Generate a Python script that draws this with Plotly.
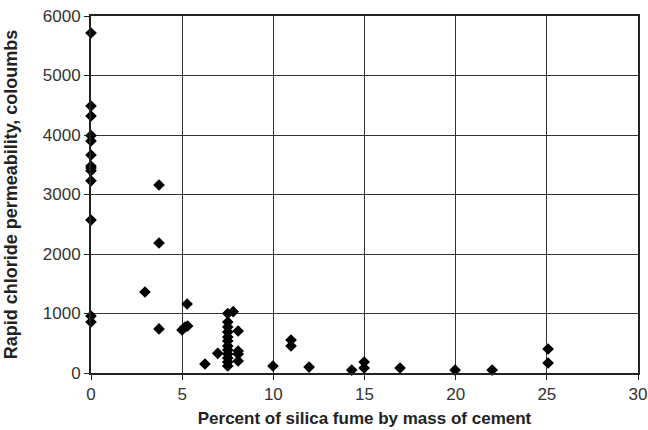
import plotly.graph_objects as go

silica_fume_pct = [0, 0, 0, 0, 0, 0, 0, 0, 0, 0, 0, 0, 0,
                   2.96, 3.73, 3.73, 3.73,
                   4.99, 5.16, 5.3, 5.27,
                   6.25, 6.95,
                   7.5, 7.5, 7.5, 7.5, 7.5, 7.5, 7.5, 7.5, 7.5, 7.5, 7.5, 7.5, 7.8,
                   8.07, 8.07, 8.07, 8.07,
                   9.98, 10.97, 10.97, 11.96,
                   14.3, 14.98, 14.98, 16.95, 19.97, 22.0, 25.07, 25.07]
permeability_c = [5714, 4487, 4319, 3990, 3900, 3664, 3479, 3445, 3400, 3230, 2571, 958, 857,
                  1361, 3160, 2185, 740,
                  723, 773, 790, 1160,
                  151, 330,
                  1000, 857, 773, 690, 605, 538, 454, 387, 319, 252, 185, 118, 1030,
                  706, 370, 319, 202,
                  118, 555, 454, 100,
                  50, 185, 84, 84, 50, 50, 403, 168]

x_ticks = [0, 5, 10, 15, 20, 25, 30]
y_ticks = [0, 1000, 2000, 3000, 4000, 5000, 6000]

fig = go.Figure()
fig.add_trace(go.Scatter(
    x=silica_fume_pct, y=permeability_c, mode="markers",
    marker=dict(symbol="diamond", size=9, color="black"),
    showlegend=False, cliponaxis=False))

font = "Liberation Sans, Arial, sans-serif"
fig.update_layout(
    width=648, height=430,
    margin=dict(l=91, r=10, t=16, b=57),
    paper_bgcolor="white", plot_bgcolor="white",
    font=dict(family=font, size=17, color="#333"),
    xaxis=dict(range=[0, 30], tickvals=x_ticks, showgrid=True, gridcolor="#333", gridwidth=1.2,
               showline=True, linecolor="#222", linewidth=2, mirror=True, automargin=False,
               ticks="outside", ticklen=5, tickcolor="#222", zeroline=False,
               title=dict(text="<b>Percent of silica fume by mass of cement</b>",
                          font=dict(size=17, color="#222"), standoff=9)),
    yaxis=dict(range=[0, 6000], tickvals=y_ticks, showgrid=True, gridcolor="#333", gridwidth=1.2,
               showline=True, linecolor="#222", linewidth=2, mirror=True, automargin=False,
               ticks="outside", ticklen=5, tickcolor="#222", zeroline=False,
               title=dict(text="<b>Rapid chloride permeability, coloumbs</b>",
                          font=dict(size=18, color="#222"), standoff=20)),
)
fig.write_html("out.html")
